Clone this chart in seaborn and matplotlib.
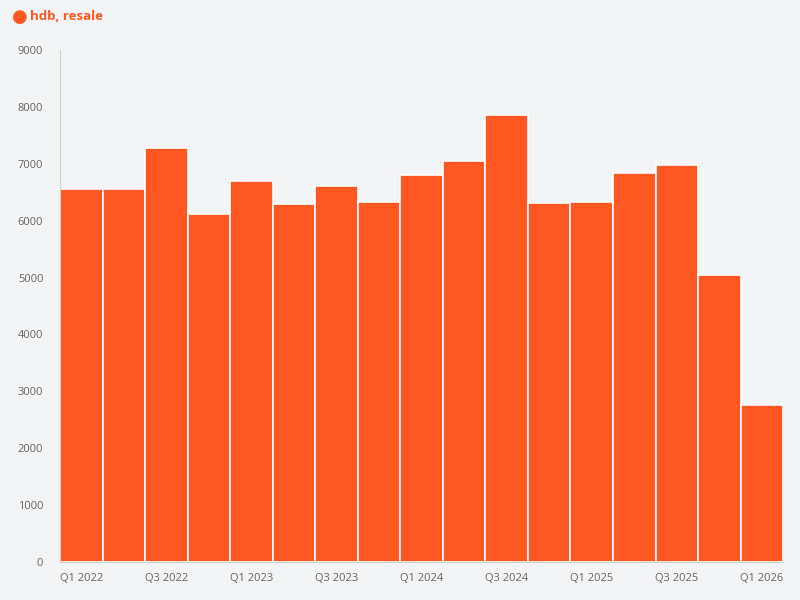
import matplotlib
matplotlib.use("Agg")
import matplotlib.pyplot as plt
import seaborn as sns
import pandas as pd

quarters = ["Q1 2022", "Q2 2022", "Q3 2022", "Q4 2022", "Q1 2023", "Q2 2023", "Q3 2023", "Q4 2023",
            "Q1 2024", "Q2 2024", "Q3 2024", "Q4 2024", "Q1 2025", "Q2 2025", "Q3 2025", "Q4 2025",
            "Q1 2026"]
resale = [6560, 6560, 7270, 6110, 6700, 6290, 6610, 6330, 6800, 7050, 7860, 6310, 6330, 6840, 6970,
          5050, 2760]
series_name = "hdb, resale"

bg = "#f3f4f6"
bar_color = "#ff5722"

sns.set_style("white")
plt.rcParams["font.family"] = ["Open Sans", "DejaVu Sans"]

fig = plt.figure(figsize=(8, 6), dpi=100, facecolor=bg)
ax = fig.add_axes([0.075, 0.063, 0.904, 0.854], facecolor=bg)

df = pd.DataFrame({"quarter": quarters, "value": resale})
sns.barplot(data=df, x="quarter", y="value", color=bar_color, width=1.0,
            edgecolor="white", linewidth=1.2, saturation=1, ax=ax)

ax.set_ylim(0, 9000)
ax.set_xlim(-0.5, len(quarters) - 0.5)
ax.set_yticks(range(0, 9001, 1000))
ax.set_xticks(range(0, len(quarters), 2))
ax.set_xticklabels(quarters[::2])
ax.tick_params(axis="both", labelsize=8, colors="#666666", length=0)
ax.tick_params(axis="x", pad=8)
ax.tick_params(axis="y", pad=12)
ax.set_xlabel("")
ax.set_ylabel("")
for s in ["top", "right"]:
    ax.spines[s].set_visible(False)
for s in ["left", "bottom"]:
    ax.spines[s].set_color("#d0d0d0")
    ax.spines[s].set_linewidth(0.8)

fig.text(0.015, 0.972, "\u25cf", color=bar_color, fontsize=13, va="center", ha="left")
fig.text(0.038, 0.972, series_name, color=bar_color, fontsize=9.5, fontweight="bold",
         va="center", ha="left")

fig.savefig("out.png", dpi=100, facecolor=bg)
